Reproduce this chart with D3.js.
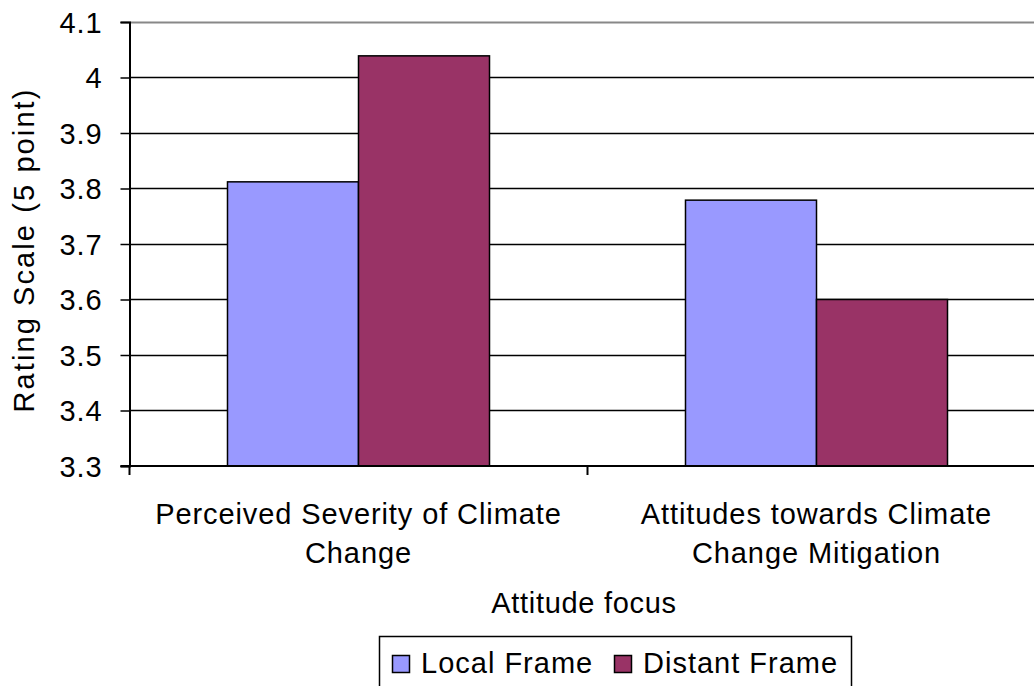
<!DOCTYPE html>
<html><head><meta charset="utf-8">
<script src="https://cdn.jsdelivr.net/npm/d3@7"></script>
<style>
html,body{margin:0;padding:0;background:#fff;}
svg text{font-family:"Liberation Sans",Arial,sans-serif;fill:#000;}
</style></head>
<body>
<svg id="chart" width="1034" height="686"></svg>
<script>
const categories = [["Perceived Severity of Climate","Change"],["Attitudes towards Climate","Change Mitigation"]];
const seriesNames = ["Local Frame","Distant Frame"];
const localValues = [3.812, 3.779];
const distantValues = [4.039, 3.600];
const yTicks = [3.3,3.4,3.5,3.6,3.7,3.8,3.9,4.0,4.1];
const yTickLabels = ["3.3","3.4","3.5","3.6","3.7","3.8","3.9","4","4.1"];
const colors = ["#9999FF","#993366"];
const yTitle = "Rating Scale (5 point)";
const xTitle = "Attitude focus";

const svg = d3.select("#chart");
const plotLeft = 129.5, plotTop = 22, plotBottom = 466, bandW = 458;
const catIdx = d3.range(categories.length);
const x0 = d3.scaleBand().domain(catIdx).range([plotLeft, plotLeft + bandW*categories.length]).padding(0);
const x1 = d3.scaleBand().domain(seriesNames).range([0, x0.bandwidth()]).paddingInner(0).paddingOuter(0.748);
const y = d3.scaleLinear().domain([3.3, 4.1]).range([plotBottom, plotTop]);
const FS = 29, LS = 0.9;

// gridlines
svg.append("g").selectAll("line").data(yTicks.slice(1)).join("line")
  .attr("x1", plotLeft).attr("x2", 1034)
  .attr("y1", d => Math.round(y(d))+0.5).attr("y2", d => Math.round(y(d))+0.5)
  .attr("stroke", d => d === 4.1 ? "#888" : "#000")
  .attr("stroke-width", d => d === 4.1 ? 2 : 1.5);

// bars
const rows = catIdx.map(i => ({i, vals:[localValues[i], distantValues[i]]}));
const g = svg.append("g").selectAll("g").data(rows).join("g")
  .attr("transform", d => `translate(${x0(d.i)},0)`);
g.selectAll("rect").data(d => d.vals.map((v,k)=>({v,k}))).join("rect")
  .attr("x", d => x1(seriesNames[d.k]))
  .attr("width", x1.bandwidth())
  .attr("y", d => y(d.v))
  .attr("height", d => plotBottom - y(d.v))
  .attr("fill", d => colors[d.k])
  .attr("stroke", "#000").attr("stroke-width", 1.5);

// y axis
const yAxis = d3.axisLeft(y).tickValues(yTicks).tickSize(9).tickPadding(20)
  .tickFormat((d,i) => yTickLabels[i]);
const ya = svg.append("g").attr("transform", `translate(${plotLeft},0)`).call(yAxis);
ya.select(".domain").attr("stroke","#000").attr("stroke-width",2);
ya.selectAll(".tick line").attr("stroke","#000").attr("stroke-width",1.5);
ya.selectAll(".tick text").attr("font-size", FS).attr("letter-spacing", LS)
  .attr("font-family",'"Liberation Sans",Arial,sans-serif').attr("dy","0.36em").attr("x",-27);

// x axis
svg.append("line").attr("x1", plotLeft-9).attr("x2", 1034).attr("y1", plotBottom).attr("y2", plotBottom)
  .attr("stroke","#000").attr("stroke-width",2);
svg.append("g").selectAll("line").data(d3.range(categories.length+1)).join("line")
  .attr("x1", d => plotLeft + d*bandW).attr("x2", d => plotLeft + d*bandW)
  .attr("y1", plotBottom).attr("y2", plotBottom+9).attr("stroke","#000").attr("stroke-width",2);

// category labels
svg.append("g").selectAll("text").data(catIdx).join("text")
  .attr("x", d => x0(d) + x0.bandwidth()/2)
  .attr("y", 524)
  .attr("text-anchor","middle").attr("font-size", FS).attr("letter-spacing", LS)
  .each(function(d){
    const t = d3.select(this);
    categories[d].forEach((line, j) => {
      t.append("tspan").attr("x", x0(d) + x0.bandwidth()/2).attr("dy", j ? 39 : 0).text(line);
    });
  });

// axis titles
svg.append("text").attr("x", 584).attr("y", 613).attr("text-anchor","middle")
  .attr("font-size", FS).attr("letter-spacing", 0.7).text(xTitle);
svg.append("text").attr("transform","translate(34,250) rotate(-90)").attr("text-anchor","middle")
  .attr("font-size", FS).attr("letter-spacing", 2.1).text(yTitle);

// legend
svg.append("rect").attr("x",379.5).attr("y",636.5).attr("width",472).attr("height",60)
  .attr("fill","#fff").attr("stroke","#000").attr("stroke-width",1.5);
const legX = [392, 614];
const lg = svg.append("g").selectAll("g").data(seriesNames).join("g")
  .attr("transform", (d,i) => `translate(${legX[i]},0)`);
lg.append("rect").attr("x",0.5).attr("y",655.5).attr("width",17).attr("height",17)
  .attr("fill", (d,i) => colors[i]).attr("stroke","#000").attr("stroke-width",1.5);
lg.append("text").attr("x",29).attr("y",673).attr("font-size",FS).attr("letter-spacing",1.0).text(d => d);
</script>
</body></html>
